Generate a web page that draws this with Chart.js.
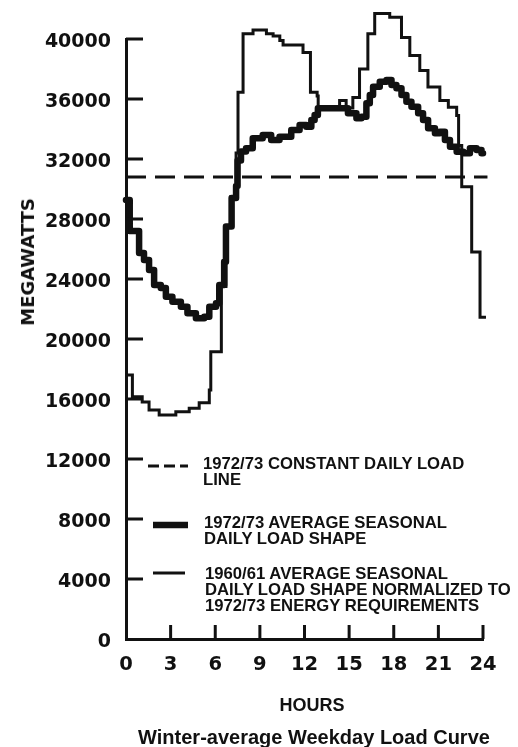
<!DOCTYPE html>
<html>
<head>
<meta charset="utf-8">
<script src="https://cdn.jsdelivr.net/npm/chart.js@4/dist/chart.umd.min.js"></script>
<style>
html,body{margin:0;padding:0;background:#fff;}
#wrap{position:relative;width:518px;height:747px;overflow:hidden;background:#fff;}
#c{position:absolute;left:0;top:0;}
.t{position:absolute;color:#111;font-weight:bold;white-space:nowrap;}
.lg{font-family:"Liberation Sans",Arial,sans-serif;font-size:16.7px;line-height:16px;}
#ytitle{font-family:"DejaVu Sans",sans-serif;font-size:18px;line-height:18px;left:28px;top:262px;transform:translate(-50%,-50%) rotate(-90deg);}
#xtitle{font-family:"Liberation Sans",Arial,sans-serif;font-size:18px;line-height:18px;left:312px;top:705px;transform:translate(-50%,-50%);}
#title{font-family:"Liberation Sans",Arial,sans-serif;font-size:20px;line-height:20px;left:314px;top:737px;transform:translate(-50%,-50%);}
#samples{position:absolute;left:140px;top:450px;}
</style>
</head>
<body>
<div id="wrap">
<canvas id="c" width="518" height="747"></canvas>
<div class="t" id="ytitle">MEGAWATTS</div>
<div class="t" id="xtitle">HOURS</div>
<div class="t" id="title">Winter-average Weekday Load Curve</div>
<svg id="samples" width="60" height="140">
  <line x1="8" y1="16" x2="48" y2="16" stroke="#111" stroke-width="3" stroke-dasharray="11 5"/>
  <line x1="13" y1="75" x2="48" y2="75" stroke="#111" stroke-width="6.5"/>
  <line x1="13" y1="123" x2="45" y2="123" stroke="#111" stroke-width="3"/>
</svg>
<div class="t lg" style="left:203px;top:456px;">1972/73 CONSTANT DAILY LOAD<br>LINE</div>
<div class="t lg" style="left:204px;top:515px;">1972/73 AVERAGE SEASONAL<br>DAILY LOAD SHAPE</div>
<div class="t lg" style="left:205px;top:566px;">1960/61 AVERAGE SEASONAL<br>DAILY LOAD SHAPE NORMALIZED TO<br>1972/73 ENERGY REQUIREMENTS</div>
</div>
<script>
// ---- data ----
const HOURS_1960 = [0, 0.43, 1.09, 1.55, 2.23, 3.35, 4.25, 4.92, 5.6, 5.7, 6.41, 6.72, 7.06, 7.4, 7.53, 7.87, 8.54, 9.44, 9.89, 10.34, 10.56, 11.9, 12.4, 12.85, 12.92, 14.36, 14.8, 15.25, 15.7, 16.26, 16.72, 17.73, 18.52, 19.08, 19.75, 20.3, 21.1, 21.67, 22.23, 22.36, 22.57, 23.24, 23.8, 24.2];
const MW_1960 = [17600, 16150, 15800, 15270, 14930, 15150, 15380, 15750, 16600, 19150, 23500, 27500, 29500, 32400, 36450, 40350, 40600, 40350, 40200, 39900, 39600, 39100, 36450, 36200, 35400, 35900, 35400, 36100, 38000, 40350, 41700, 41450, 40100, 38900, 37900, 36800, 35900, 35450, 34900, 32900, 30150, 25800, 21450, 21450];

const HOURS_1972 = [0, 0.25, 0.88, 1.21, 1.55, 1.89, 2.34, 2.68, 3.12, 3.69, 4.13, 4.7, 5.26, 5.6, 6.05, 6.27, 6.6, 6.72, 7.1, 7.4, 7.5, 7.73, 8.07, 8.52, 9.19, 9.76, 10.32, 11.11, 11.67, 12.12, 12.46, 12.68, 12.9, 14.36, 14.92, 15.49, 15.83, 16.16, 16.39, 16.61, 17.06, 17.51, 17.85, 18.18, 18.52, 18.85, 19.19, 19.64, 19.97, 20.31, 20.77, 21.1, 21.44, 21.78, 22.23, 22.68, 23.12, 23.57, 23.9, 24];
const MW_1972 = [29270, 27200, 25730, 25270, 24600, 23600, 23400, 22820, 22490, 22150, 21710, 21380, 21490, 22150, 22380, 23600, 25150, 27500, 29400, 30200, 31900, 32500, 32710, 33380, 33600, 33270, 33490, 33930, 34270, 34150, 34600, 34930, 35380, 35380, 35050, 34710, 34820, 35710, 36270, 36820, 37150, 37270, 36930, 36710, 36270, 35820, 35490, 35050, 34600, 34050, 33710, 33820, 33270, 32820, 32490, 32380, 32710, 32600, 32380, 32380];

const CONSTANT_HOURS = [0, 24.3];
const CONSTANT_MW = [30800, 30800];

const X_TICKS = [0, 3, 6, 9, 12, 15, 18, 21, 24];
const X_TICK_LABELS = ['0', '3', '6', '9', '12', '15', '18', '21', '24'];
const Y_TICKS = [0, 4000, 8000, 12000, 16000, 20000, 24000, 28000, 32000, 36000, 40000];
const Y_TICK_LABELS = ['0', '4000', '8000', '12000', '16000', '20000', '24000', '28000', '32000', '36000', '40000'];

const INK = '#111';
const pts = (xs, ys) => xs.map((x, i) => ({x: x, y: ys[i]}));

const inwardTicks = {
  id: 'inwardTicks',
  afterDraw(chart) {
    const {ctx, chartArea, scales} = chart;
    ctx.save();
    ctx.strokeStyle = INK;
    ctx.lineWidth = 3;
    scales.y.ticks.forEach(t => {
      if (t.value <= 0) return;
      const py = scales.y.getPixelForValue(t.value);
      ctx.beginPath(); ctx.moveTo(chartArea.left, py); ctx.lineTo(chartArea.left + 17, py); ctx.stroke();
    });
    scales.x.ticks.forEach(t => {
      if (t.value <= 0) return;
      const px = scales.x.getPixelForValue(t.value);
      ctx.beginPath(); ctx.moveTo(px, chartArea.bottom); ctx.lineTo(px, chartArea.bottom - 14); ctx.stroke();
    });
    ctx.restore();
  }
};

new Chart(document.getElementById('c'), {
  type: 'line',
  data: {
    datasets: [
      {label: '1960/61', data: pts(HOURS_1960, MW_1960), stepped: true, borderColor: INK, borderWidth: 3, pointRadius: 0, fill: false, clip: false},
      {label: '1972/73', data: pts(HOURS_1972, MW_1972), stepped: true, borderColor: INK, borderWidth: 6.5, borderJoinStyle: 'round', borderCapStyle: 'round', pointRadius: 0, fill: false, clip: false},
      {label: 'constant', data: pts(CONSTANT_HOURS, CONSTANT_MW), borderColor: INK, borderWidth: 3, borderDash: [20, 9], pointRadius: 0, fill: false, clip: false}
    ]
  },
  options: {
    responsive: false,
    animation: false,
    devicePixelRatio: 1,
    layout: {padding: {top: 39, right: 35, left: 0, bottom: 0}},
    plugins: {legend: {display: false}, tooltip: {enabled: false}, title: {display: false}},
    scales: {
      x: {
        type: 'linear', min: 0, max: 24,
        afterBuildTicks: s => { s.ticks = X_TICKS.map(v => ({value: v})); },
        afterFit: s => { s.height = 108; },
        grid: {display: false, drawTicks: false},
        border: {display: true, color: INK, width: 3},
        ticks: {
          padding: 14, color: INK,
          font: {family: 'DejaVu Sans', weight: 'bold', size: 19.5},
          callback: (v, i) => X_TICK_LABELS[i],
          maxRotation: 0, autoSkip: false
        }
      },
      y: {
        type: 'linear', min: 0, max: 40000,
        afterBuildTicks: s => { s.ticks = Y_TICKS.map(v => ({value: v})); },
        afterFit: s => { s.width = 126; },
        grid: {display: false, drawTicks: false},
        border: {display: true, color: INK, width: 3},
        ticks: {
          padding: 15, color: INK, labelOffset: 3,
          font: {family: 'DejaVu Sans', weight: 'bold', size: 19},
          callback: (v, i) => Y_TICK_LABELS[i],
          autoSkip: false
        }
      }
    }
  },
  plugins: [inwardTicks]
});
</script>
</body>
</html>
